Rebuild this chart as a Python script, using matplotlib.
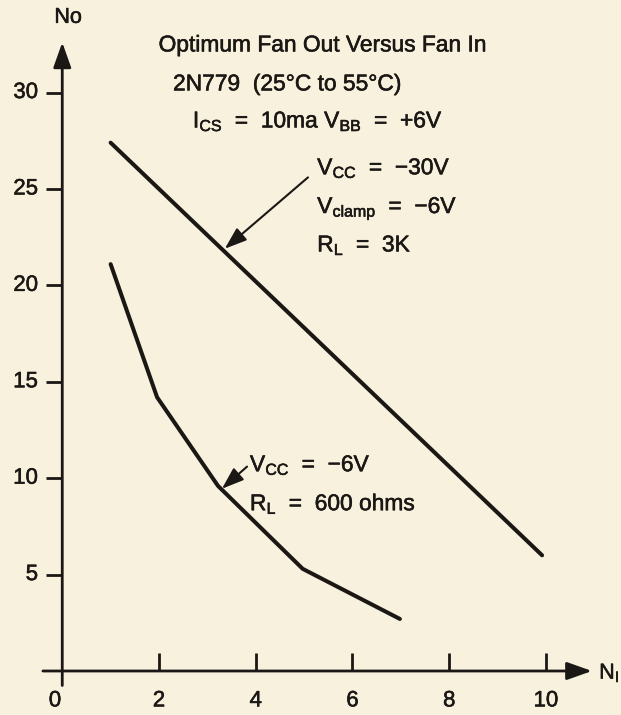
"""Optimum fan out versus fan in for the 2N779, redrawn from a scanned chart."""

import matplotlib

matplotlib.use("Agg")

import matplotlib.patheffects as pe
import matplotlib.pyplot as plt

plt.rcParams["font.family"] = ["Liberation Sans", "DejaVu Sans"]
plt.rcParams["mathtext.fontset"] = "custom"
plt.rcParams["mathtext.rm"] = "Liberation Sans"

PAPER = "#f7f1de"
INK = "#1b1714"
HEAVY = [pe.withStroke(linewidth=0.4, foreground=INK)]

# curve: Vcc = -30V, Vclamp = -6V, RL = 3K
upper_ni = [1.0, 9.92]
upper_no = [27.4, 6.0]

# curve: Vcc = -6V, RL = 600 ohms
lower_ni = [1.0, 1.96, 3.22, 4.97, 6.98]
lower_no = [21.1, 14.2, 9.6, 5.3, 2.7]

x_ticks = [2, 4, 6, 8, 10]
x_tick_labels = ["2", "4", "6", "8", "10"]
y_ticks = [5, 10, 15, 20, 25, 30]
y_tick_labels = ["5", "10", "15", "20", "25", "30"]

title_lines = [
    "Optimum Fan Out Versus Fan In",
    "2N779  (25°C to 55°C)",
    r"I$\mathregular{_{CS}}$  =  10ma V$\mathregular{_{BB}}$  =  +6V",
]
upper_labels = [
    r"V$\mathregular{_{CC}}$  =  −30V",
    r"V$\mathregular{_{clamp}}$  =  −6V",
    r"R$\mathregular{_{L}}$  =  3K",
]
lower_labels = [
    r"V$\mathregular{_{CC}}$  =  −6V",
    r"R$\mathregular{_{L}}$  =  600 ohms",
]


def arrow(ax, start, tip, lw, size):
    ax.annotate(
        "",
        xy=tip,
        xytext=start,
        arrowprops=dict(
            arrowstyle="-|>,head_length=0.9,head_width=0.32",
            lw=lw,
            color=INK,
            mutation_scale=size,
            shrinkA=0,
            shrinkB=0,
        ),
    )


def label(ax, x, y, text, size, ha="left"):
    ax.text(x, y, text, ha=ha, va="center", fontsize=size, color=INK,
            path_effects=HEAVY)


def main() -> None:
    fig = plt.figure(figsize=(6.21, 7.15), dpi=100, facecolor=PAPER)
    ax = fig.add_axes([0, 0, 1, 1], facecolor=PAPER)
    ax.set_xlim(-1.287, 11.551)
    ax.set_ylim(-2.282, 34.80)
    ax.axis("off")

    # axes drawn by hand, with arrow heads
    arrow(ax, (0, -0.75), (0, 32.6), 2.0, 17)
    arrow(ax, (-0.4, 0), (10.95, 0), 2.0, 17)

    for x in x_ticks:
        ax.plot([x, x], [0, 0.95], color=INK, lw=2.0, solid_capstyle="butt")
    for y in y_ticks:
        ax.plot([-0.33, 0], [y, y], color=INK, lw=2.0, solid_capstyle="butt")

    for x, text in zip(x_ticks, x_tick_labels):
        label(ax, x, -1.55, text, 16, ha="center")
    label(ax, -0.15, -1.55, "0", 16, ha="center")
    for y, text in zip(y_ticks, y_tick_labels):
        label(ax, -0.5, y, text, 16, ha="right")

    label(ax, 0.12, 33.9, "No", 15.5, ha="center")
    label(ax, 11.1, -0.1, r"N$\mathregular{_{I}}$", 15.5)

    ax.plot(upper_ni, upper_no, color=INK, lw=2.9, solid_capstyle="round")
    ax.plot(lower_ni, lower_no, color=INK, lw=2.9, solid_capstyle="round",
            solid_joinstyle="miter")

    label(ax, 5.39, 32.47, title_lines[0], 16.4, ha="center")
    label(ax, 2.29, 30.45, title_lines[1], 16.4)
    label(ax, 2.70, 28.53, title_lines[2], 16.4)

    for y, text in zip([26.1, 24.0, 22.1], upper_labels):
        label(ax, 5.27, y, text, 16.4)
    for y, text in zip([10.7, 8.7], lower_labels):
        label(ax, 3.88, y, text, 16.4)

    # pointers from the labels to the curves
    arrow(ax, (5.08, 25.6), (3.36, 21.9), 1.5, 15)
    arrow(ax, (3.82, 10.6), (3.3, 9.45), 1.5, 15)

    fig.savefig("out.png", dpi=100, facecolor=PAPER)
    plt.close(fig)


if __name__ == "__main__":
    main()
